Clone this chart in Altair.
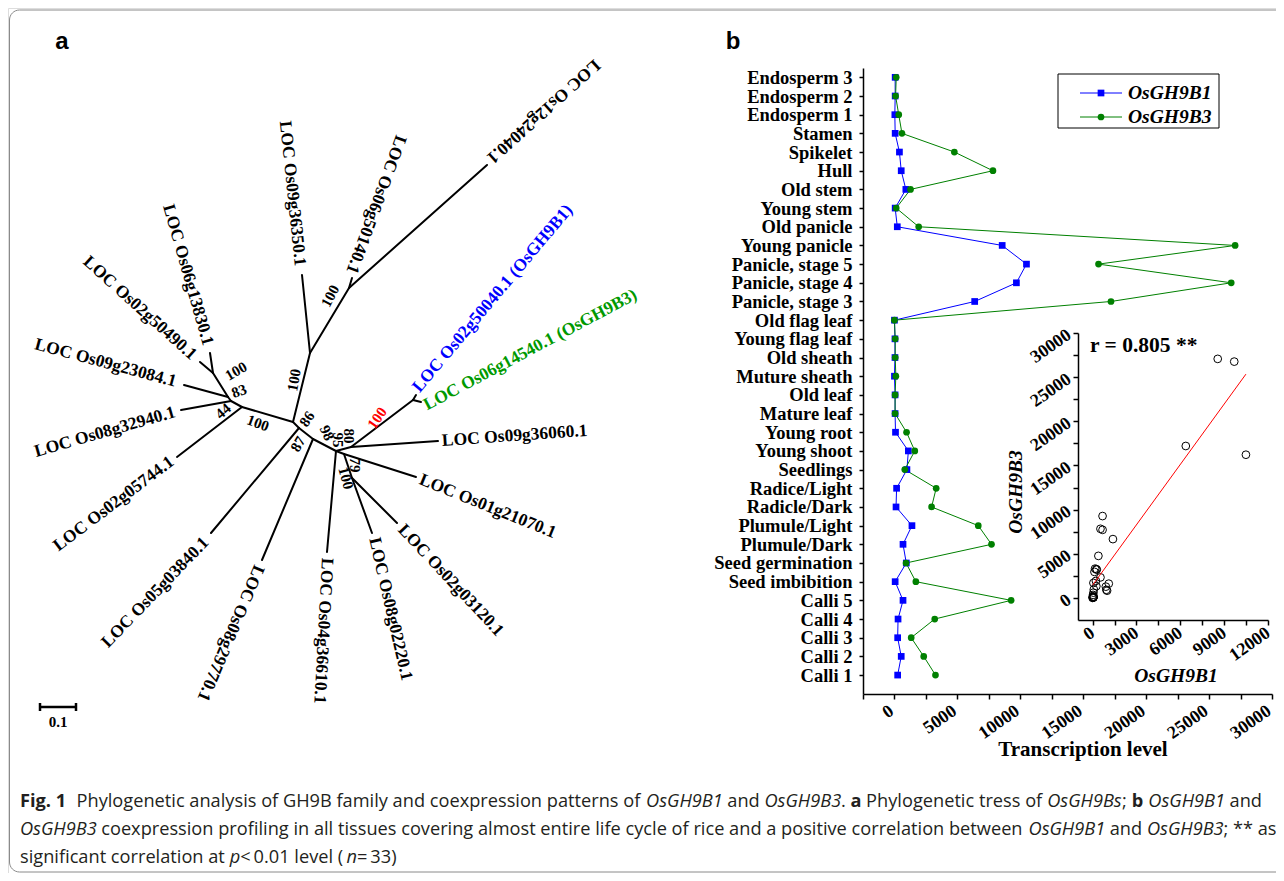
import altair as alt
import pandas as pd

# ------------------------------------------------------------------ panel b data
tissues = ["Endosperm 3", "Endosperm 2", "Endosperm 1", "Stamen", "Spikelet", "Hull",
           "Old stem", "Young stem", "Old panicle", "Young panicle", "Panicle, stage 5",
           "Panicle, stage 4", "Panicle, stage 3", "Old flag leaf", "Young flag leaf",
           "Old sheath", "Muture  sheath", "Old leaf", "Mature leaf", "Young root",
           "Young shoot", "Seedlings", "Radice/Light", "Radicle/Dark", "Plumule/Light",
           "Plumule/Dark", "Seed germination", "Seed imbibition", "Calli 5", "Calli 4",
           "Calli 3", "Calli 2", "Calli 1"]
b1 = [56, 56, 30, 56, 395, 537, 905, 56, 225, 8560, 10490, 9690, 6375, 0, 40, 40, 0, 50, 50,
      83, 1105, 990, 170, 125, 1390, 680, 940, 55, 680, 285, 255, 537, 255]
b3 = [140, 90, 340, 595, 4760, 7825, 1275, 140, 1925, 27070, 16215, 26760, 17205, 0, 60, 60,
      110, 50, 50, 960, 1615, 820, 3315, 2950, 6660, 7710, 920, 1700, 9270, 3200, 1330, 2325, 3260]
series_names = ["OsGH9B1", "OsGH9B3"]
series_colors = ["#0000ff", "#008000"]
series_shapes = ["square", "circle"]
main_x_ticks = list(range(-2500, 30001, 2500))
inset_x_ticks = list(range(0, 12001, 1500))
inset_y_ticks = list(range(0, 30001, 2500))
r_label = "r = 0.805 **"

# ------------------------------------------------------------------ panel a data (tree layout)
node_id = ["C", "T1", "T2", "Os12g24040", "Os06g50140", "Os09g36350", "L1", "L2", "L3", "L4",
           "Os02g50490", "Os06g13830", "Os09g23084", "Os08g32940", "Os02g05744", "Ra",
           "Os05g03840", "Rb", "Os08g29770", "R", "Os04g36610", "R2", "B", "OsGH9B1",
           "OsGH9B3", "Os09g36060", "R3", "Os01g21070", "R4", "Os02g03120", "Os08g02220"]
node_x = [293, 310, 349, 487, 352, 302, 242, 231, 228, 213, 200, 210, 184, 181, 177, 299,
          211, 313, 262, 336, 327, 351, 413, 416, 421, 438, 344, 416, 352, 397, 372]
node_y = [422, 353, 288, 165, 278, 275, 407, 401, 397, 373, 362, 353, 385, 410, 457, 428,
          533, 439, 560, 451, 552, 447, 400, 395, 402, 441, 454, 477, 478, 523, 533]
edge_from = ["C", "T1", "T2", "T2", "T1", "C", "L1", "L2", "L2", "L3", "L3", "L4", "L4", "L1",
             "C", "Ra", "Ra", "Rb", "Rb", "R", "R", "R2", "B", "B", "R2", "R", "R3", "R3",
             "R4", "R4"]
edge_to = ["T1", "T2", "Os12g24040", "Os06g50140", "Os09g36350", "L1", "L2", "Os08g32940",
           "L3", "Os09g23084", "L4", "Os02g50490", "Os06g13830", "Os02g05744", "Ra",
           "Os05g03840", "Rb", "Os08g29770", "R", "Os04g36610", "R2", "B", "OsGH9B1",
           "OsGH9B3", "Os09g36060", "R3", "Os01g21070", "R4", "Os02g03120", "Os08g02220"]

tip_text = ["LOC Os12g24040.1", "LOC Os06g50140.1", "LOC Os09g36350.1", "LOC Os06g13830.1",
            "LOC Os02g50490.1", "LOC Os09g23084.1", "LOC Os08g32940.1", "LOC Os02g05744.1",
            "LOC Os05g03840.1", "LOC Os08g29770.1", "LOC Os04g36610.1", "LOC Os08g02220.1",
            "LOC Os02g03120.1", "LOC Os01g21070.1", "LOC Os09g36060.1",
            "LOC Os02g50040.1 (OsGH9B1)", "LOC Os06g14540.1 (OsGH9B3)"]
tip_x = [489, 351, 300, 208, 194, 176, 175, 172, 206, 259, 327, 374, 401, 420, 442, 416, 425]
tip_y = [160, 273, 266, 345, 357, 382, 412, 460, 540, 566, 558, 538, 527, 479, 441, 390, 406]
tip_angle = [138, 110, 84, 74, 42, 15, -16, -37, -46, 113, 93, 77, 47, 22, -4, -50, -28]
tip_align = ["right"] * 9 + ["left"] * 8
tip_color = ["black"] * 15 + ["#0000ff", "#009900"]

boot_text = ["100", "100", "100", "83", "44", "100", "86", "87", "98", "95", "80", "79", "100", "100"]
boot_x = [330, 294, 236, 239, 223, 258, 307, 298, 327, 338, 349, 355, 346, 377]
boot_y = [296, 380, 371, 391, 411, 423, 419, 444, 433, 440, 436, 465, 478, 418]
boot_angle = [-62, -80, -30, -20, -40, 20, -55, -60, 65, 90, 90, 90, 75, -55]
boot_color = ["black"] * 13 + ["red"]

scale_bar_units = 0.1
tree_px_per_unit = 360

# ------------------------------------------------------------------ caption (runs of text)
cap_lines = [
    [("Fig. 1", "bold"), ("  Phylogenetic analysis of GH9B family and coexpression patterns of ", "regular"),
     ("OsGH9B1", "italic"), (" and ", "regular"), ("OsGH9B3", "italic"), (". ", "regular"),
     ("a", "bold"), (" Phylogenetic tress of ", "regular"), ("OsGH9Bs", "italic"),
     ("; ", "regular"), ("b", "bold"), (" ", "regular"), ("OsGH9B1", "italic"),
     (" and", "regular")],
    [("OsGH9B3", "italic"),
     (" coexpression profiling in all tissues covering almost entire life cycle of rice and a positive correlation between ", "regular"),
     ("OsGH9B1", "italic"), (" and ", "regular"), ("OsGH9B3", "italic"), ("; ** as", "regular")],
    [("significant correlation at ", "regular"), ("p", "italic"),
     ("\u2009<\u20090.01 level (", "regular"), ("n", "italic"), ("\u2009=\u200933)", "regular")],
]
cap_line_y = [802, 830, 858]
cap_x0 = 20
cap_line1_width = 1242

# approximate Open Sans advance widths (em)
_w = {" ": .26, "\u2009": .17, "a": .556, "b": .613, "c": .476, "d": .613, "e": .561, "f": .339,
      "g": .548, "h": .614, "i": .253, "j": .253, "k": .525, "l": .253, "m": .93, "n": .614,
      "o": .604, "p": .613, "q": .613, "r": .408, "s": .477, "t": .353, "u": .614, "v": .501,
      "w": .778, "x": .524, "y": .502, "z": .477, "A": .633, "B": .648, "C": .631, "D": .729,
      "E": .556, "F": .516, "G": .728, "H": .738, "I": .279, "O": .779, "P": .602, "S": .549,
      "T": .553, ".": .266, ",": .244, ";": .266, "*": .551, "(": .295, ")": .295, "<": .572,
      "=": .572, "/": .367}
_style_factor = {"regular": 1.0, "italic": 0.93, "bold": 1.07}


def em_width(s, style):
    return sum(_w.get(ch, .572) for ch in s) * _style_factor[style]


cap_size = cap_line1_width / sum(em_width(t, st) for t, st in cap_lines[0])
cap_rows = []
for line, yv in zip(cap_lines, cap_line_y):
    xpos = cap_x0
    for t, st in line:
        lead = len(t) - len(t.lstrip(" "))
        shown = t.strip(" ")
        if shown:
            cap_rows.append({"text": shown, "x": xpos + em_width(t[:lead], st) * cap_size,
                             "y": yv, "style": st})
        xpos += em_width(t, st) * cap_size

# ------------------------------------------------------------------ layout helpers
W, H, PAGE = 1268, 865, 8
XC = alt.Scale(domain=[PAGE, PAGE + W], range=[0, W], nice=False, zero=False)
YC = alt.Scale(domain=[PAGE, PAGE + H], range=[0, H], nice=False, zero=False)
SERIF = "Liberation Serif"
SANS = "Liberation Sans"


def cx(f="x"):
    return alt.X(f + ":Q", scale=XC, axis=None)


def cy(f="y"):
    return alt.Y(f + ":Q", scale=YC, axis=None)


def text_layer(df, use_angle=False, use_color=False, **mk):
    enc = dict(x=cx(), y=cy(), text="text:N")
    if use_angle:
        enc["angle"] = alt.Angle("angle:Q", scale=None)
    if use_color:
        enc["color"] = alt.Color("color:N", scale=None)
    return alt.Chart(df).mark_text(baseline="middle", **mk).encode(**enc)


layers = []

# frame
frame_df = pd.DataFrame({"x": [9.5], "x2": [1300], "y": [10], "y2": [872]})
layers.append(alt.Chart(frame_df).mark_rect(fillOpacity=0, stroke="#8a8a8a", strokeWidth=1,
                                            cornerRadius=10)
              .encode(x=cx(), x2="x2:Q", y=cy(), y2="y2:Q"))

# panel letters
letters = pd.DataFrame({"text": ["a", "b"], "x": [62, 733], "y": [42, 42]})
layers.append(text_layer(letters, font=SANS, fontWeight="bold", fontSize=24, align="center",
                         color="black"))

# ---- tree
pos = {n: (x, y) for n, x, y in zip(node_id, node_x, node_y)}
edges = pd.DataFrame({"x": [pos[a][0] for a in edge_from], "y": [pos[a][1] for a in edge_from],
                      "x2": [pos[b][0] for b in edge_to], "y2": [pos[b][1] for b in edge_to]})
layers.append(alt.Chart(edges).mark_rule(color="black", strokeWidth=2, strokeCap="round")
              .encode(x=cx(), y=cy(), x2="x2:Q", y2="y2:Q"))

tips = pd.DataFrame({"text": tip_text, "x": tip_x, "y": tip_y,
                     "angle": [a % 360 for a in tip_angle], "align": tip_align,
                     "color": tip_color})
for al in ["left", "right"]:
    layers.append(text_layer(tips[tips["align"] == al], use_angle=True, use_color=True,
                             align=al, font=SERIF, fontWeight="bold", fontSize=17.5))

boots = pd.DataFrame({"text": boot_text, "x": boot_x, "y": boot_y,
                      "angle": [a % 360 for a in boot_angle], "color": boot_color})
layers.append(text_layer(boots, use_angle=True, use_color=True, align="center", font=SERIF,
                         fontWeight="bold", fontSize=15))

# scale bar
sb_x0, sb_y = 40, 707
sb_x1 = sb_x0 + scale_bar_units * tree_px_per_unit
sb = pd.DataFrame({"x": [sb_x0, sb_x0, sb_x1], "x2": [sb_x1, sb_x0, sb_x1],
                   "y": [sb_y, sb_y - 4, sb_y - 4], "y2": [sb_y, sb_y + 4, sb_y + 4]})
layers.append(alt.Chart(sb).mark_rule(color="black", strokeWidth=2.5)
              .encode(x=cx(), y=cy(), x2="x2:Q", y2="y2:Q"))
layers.append(text_layer(pd.DataFrame({"text": [str(scale_bar_units)], "x": [(sb_x0 + sb_x1) / 2],
                                       "y": [sb_y + 15]}),
                         font=SERIF, fontWeight="bold", fontSize=15, align="center",
                         color="black"))

# ---- panel b main chart
rows = []
for s, vals in zip(series_names, [b1, b3]):
    for i, (t, v) in enumerate(zip(tissues, vals)):
        rows.append({"tissue": t, "idx": i, "series": s, "value": v})
long_df = pd.DataFrame(rows)

main_x_scale = alt.Scale(domain=[-2500, 30000], range=[855, 1264], nice=False, zero=False)
main_y_scale = alt.Scale(domain=tissues, range=[60, 686], padding=0.756, align=0.33)
col_scale = alt.Scale(domain=series_names, range=series_colors)
shp_scale = alt.Scale(domain=series_names, range=series_shapes)

axis_common = dict(domainColor="black", tickColor="black", labelColor="black", labelFont=SERIF,
                   labelFontWeight="bold", grid=False, title=None, labelOverlap=False,
                   domainWidth=1.5, tickWidth=1.5)

main_x_axis = alt.Axis(orient="bottom", offset=686 - H, values=main_x_ticks, format="d",
                       labelExpr="datum.value >= 0 && datum.value % 5000 === 0 ? datum.label : ''",
                       labelAngle=-35, labelAlign="right", labelBaseline="middle",
                       labelFontSize=18, tickSize=5, labelPadding=10, labelFlush=False,
                       labelOffset=-3, **axis_common)
main_y_axis = alt.Axis(orient="left", offset=-855, labelFontSize=18.5, tickSize=4,
                       labelPadding=7, labelLimit=300, **axis_common)

layers.append(alt.Chart(long_df).mark_line(strokeWidth=1).encode(
    x=alt.X("value:Q", scale=main_x_scale, axis=main_x_axis),
    y=alt.Y("tissue:N", scale=main_y_scale, axis=main_y_axis, sort=None),
    color=alt.Color("series:N", scale=col_scale, legend=None),
    order=alt.Order("idx:Q")))
layers.append(alt.Chart(long_df).mark_point(filled=True, size=45, opacity=1).encode(
    x=alt.X("value:Q", scale=main_x_scale, axis=None),
    y=alt.Y("tissue:N", scale=main_y_scale, axis=None, sort=None),
    color=alt.Color("series:N", scale=col_scale, legend=None),
    shape=alt.Shape("series:N", scale=shp_scale, legend=None)))

# ---- inset scatter
sc_df = pd.DataFrame({"tissue": tissues, "b1": b1, "b3": b3})
inset_x_scale = alt.Scale(domain=[-1000, 12000], range=[1070, 1260], nice=False, zero=False)
inset_y_scale = alt.Scale(domain=[-2500, 30000], range=[612, 325], nice=False, zero=False)
inset_x_axis = alt.Axis(orient="bottom", offset=612 - H, values=inset_x_ticks, format="d",
                        labelExpr="datum.value % 3000 === 0 ? datum.label : ''",
                        labelAngle=-35, labelAlign="right", labelBaseline="middle",
                        labelFontSize=18, tickSize=5, labelPadding=6, labelFlush=False,
                        **axis_common)
inset_y_axis = alt.Axis(orient="left", offset=-1070, values=inset_y_ticks, format="d",
                        labelExpr="datum.value % 5000 === 0 ? datum.label : ''",
                        labelAngle=-35, labelAlign="right", labelBaseline="middle",
                        labelFontSize=18, tickSize=5, labelPadding=4, labelFlush=False,
                        **axis_common)
layers.append(alt.Chart(sc_df).mark_point(shape="circle", filled=False, color="black",
                                          size=60, strokeWidth=1, opacity=1).encode(
    x=alt.X("b1:Q", scale=inset_x_scale, axis=inset_x_axis),
    y=alt.Y("b3:Q", scale=inset_y_scale, axis=inset_y_axis)))
layers.append(alt.Chart(sc_df).transform_regression("b1", "b3").mark_line(
    color="red", strokeWidth=1).encode(
    x=alt.X("b1:Q", scale=inset_x_scale, axis=None),
    y=alt.Y("b3:Q", scale=inset_y_scale, axis=None)))

# ---- panel b texts
layers.append(text_layer(pd.DataFrame({"text": ["Transcription level"], "x": [1083], "y": [750]}),
                         font=SERIF, fontWeight="bold", fontSize=21, align="center",
                         color="black"))
layers.append(text_layer(pd.DataFrame({"text": [r_label], "x": [1090], "y": [346]}),
                         font=SERIF, fontWeight="bold", fontSize=21.5, align="left",
                         color="black"))
layers.append(text_layer(pd.DataFrame({"text": [series_names[0]], "x": [1176], "y": [676]}),
                         font=SERIF, fontWeight="bold", fontStyle="italic", fontSize=19.5,
                         align="center", color="black"))
layers.append(text_layer(pd.DataFrame({"text": [series_names[1]], "x": [1016], "y": [492],
                                       "angle": [270]}), use_angle=True,
                         font=SERIF, fontWeight="bold", fontStyle="italic", fontSize=19.5,
                         align="center", color="black"))

# ---- legend (built from the series lists)
leg_y = [93, 117]
box = pd.DataFrame({"x": [1058], "x2": [1219], "y": [74], "y2": [128]})
layers.append(alt.Chart(box).mark_rect(fill="white", stroke="black", strokeWidth=1)
              .encode(x=cx(), x2="x2:Q", y=cy(), y2="y2:Q"))
leg = pd.DataFrame({"text": series_names, "color": series_colors, "shape": series_shapes,
                    "x": [1080] * 2, "x2": [1122] * 2, "xm": [1101] * 2, "xt": [1128] * 2,
                    "y": leg_y})
layers.append(alt.Chart(leg).mark_rule(strokeWidth=1).encode(
    x=cx(), x2="x2:Q", y=cy(), color=alt.Color("color:N", scale=None)))
layers.append(alt.Chart(leg).mark_point(filled=True, size=45, opacity=1).encode(
    x=cx("xm"), y=cy(), color=alt.Color("color:N", scale=None),
    shape=alt.Shape("shape:N", scale=None)))
layers.append(alt.Chart(leg).mark_text(align="left", baseline="middle", font=SERIF,
                                       fontWeight="bold", fontStyle="italic", fontSize=19.5,
                                       color="black")
              .encode(x=cx("xt"), y=cy(), text="text:N"))

# ---- caption
cap = pd.DataFrame(cap_rows)
CAP_FONT = "Open Sans"
for st, props in [("regular", {}), ("italic", {"fontStyle": "italic"}),
                  ("bold", {"fontWeight": "bold"})]:
    layers.append(text_layer(cap[cap["style"] == st], align="left", font=CAP_FONT,
                             fontSize=round(cap_size, 2), color="#231f20", **props))

chart = (alt.layer(*layers)
         .resolve_scale(x="independent", y="independent")
         .properties(width=W, height=H, padding=0,
                     autosize=alt.AutoSizeParams(type="none"))
         .configure_view(strokeWidth=0)
         .configure(background="white"))

chart.save("out.html", embed_options={"renderer": "svg", "actions": False})
